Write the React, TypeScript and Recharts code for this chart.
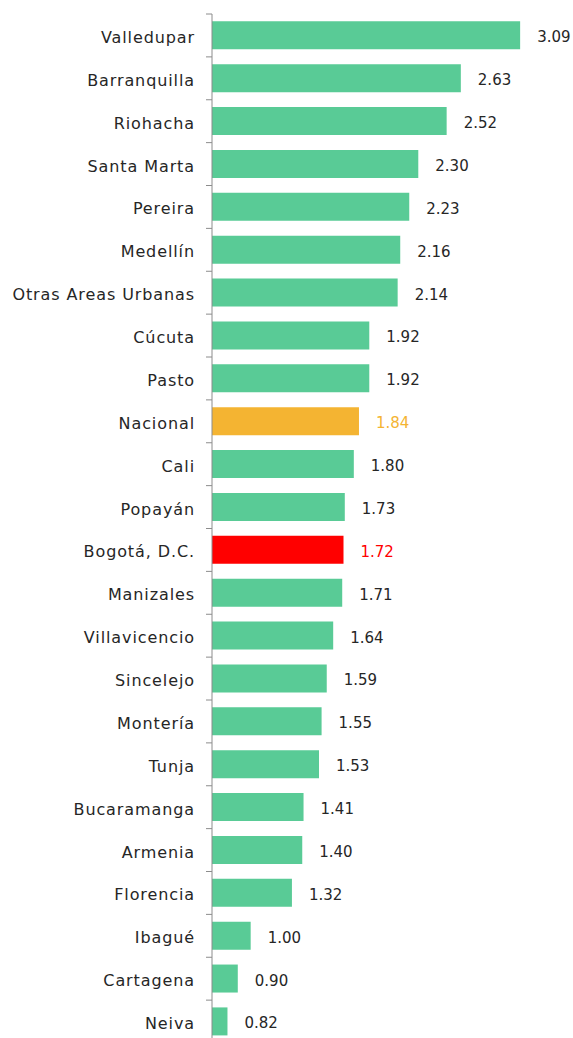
import React from "react";
import { Bar, BarChart, Cell, LabelList, XAxis, YAxis } from "recharts";

const cities = [
  "Valledupar",
  "Barranquilla",
  "Riohacha",
  "Santa Marta",
  "Pereira",
  "Medellín",
  "Otras Areas Urbanas",
  "Cúcuta",
  "Pasto",
  "Nacional",
  "Cali",
  "Popayán",
  "Bogotá, D.C.",
  "Manizales",
  "Villavicencio",
  "Sincelejo",
  "Montería",
  "Tunja",
  "Bucaramanga",
  "Armenia",
  "Florencia",
  "Ibagué",
  "Cartagena",
  "Neiva",
];

const values = [
  3.09, 2.63, 2.52, 2.3, 2.23, 2.16, 2.14, 1.92, 1.92, 1.84, 1.8, 1.73, 1.72,
  1.71, 1.64, 1.59, 1.55, 1.53, 1.41, 1.4, 1.32, 1.0, 0.9, 0.82,
];

const highlight: Record<string, string> = {
  Nacional: "#F4B432",
  "Bogotá, D.C.": "#FF0000",
};

const data = cities.map((city, i) => ({ city, value: values[i] }));

const WIDTH = 573;
const HEIGHT = 1043;
const MARGIN = { top: 14, right: 0, bottom: 0, left: 0 };
const AXIS_X = 212;
const BAND = (HEIGHT - MARGIN.top - MARGIN.bottom) / cities.length;
const GREEN = "#59CB96";
const FONT = "'DejaVu Sans', sans-serif";

const CityTick = (props: any) => {
  const { x, y, payload, index } = props;
  const tickY = y - BAND / 2;
  return (
    <g>
      <text
        x={x}
        y={y + 2}
        textAnchor="end"
        dominantBaseline="central"
        fill="#262626"
        fontSize={16}
        letterSpacing={0.9}
        fontFamily={FONT}
      >
        {payload.value}
      </text>
      <line x1={AXIS_X - 6} x2={AXIS_X} y1={tickY} y2={tickY} stroke="#8c8c8c" />
      {index === cities.length - 1 && (
        <line
          x1={AXIS_X - 6}
          x2={AXIS_X}
          y1={y + BAND / 2}
          y2={y + BAND / 2}
          stroke="#8c8c8c"
        />
      )}
    </g>
  );
};

const ValueLabel = (props: any) => {
  const { x, y, width, height, value, index } = props;
  const color = highlight[cities[index]] ?? "#262626";
  return (
    <text
      x={x + width + 17}
      y={y + height / 2 + 2}
      dominantBaseline="central"
      fill={color}
      fontSize={15}
      fontFamily={FONT}
    >
      {Number(value).toFixed(2)}
    </text>
  );
};

export default function App() {
  return (
    <div
      style={{
        position: "absolute",
        left: 0,
        top: 0,
        width: WIDTH,
        height: 1038,
        overflow: "hidden",
        background: "#fff",
      }}
    >
      <BarChart
        width={WIDTH}
        height={HEIGHT}
        data={data}
        layout="vertical"
        margin={MARGIN}
        barCategoryGap="17%"
      >
        <XAxis type="number" domain={[0.7, 3.5]} allowDataOverflow hide />
        <YAxis
          type="category"
          dataKey="city"
          width={AXIS_X}
          tickLine={false}
          tickSize={6}
          tickMargin={11}
          axisLine={{ stroke: "#8c8c8c" }}
          tick={<CityTick />}
          interval={0}
        />
        <Bar dataKey="value" isAnimationActive={false}>
          {data.map((d) => (
            <Cell key={d.city} fill={highlight[d.city] ?? GREEN} />
          ))}
          <LabelList dataKey="value" content={<ValueLabel />} />
        </Bar>
      </BarChart>
    </div>
  );
}
